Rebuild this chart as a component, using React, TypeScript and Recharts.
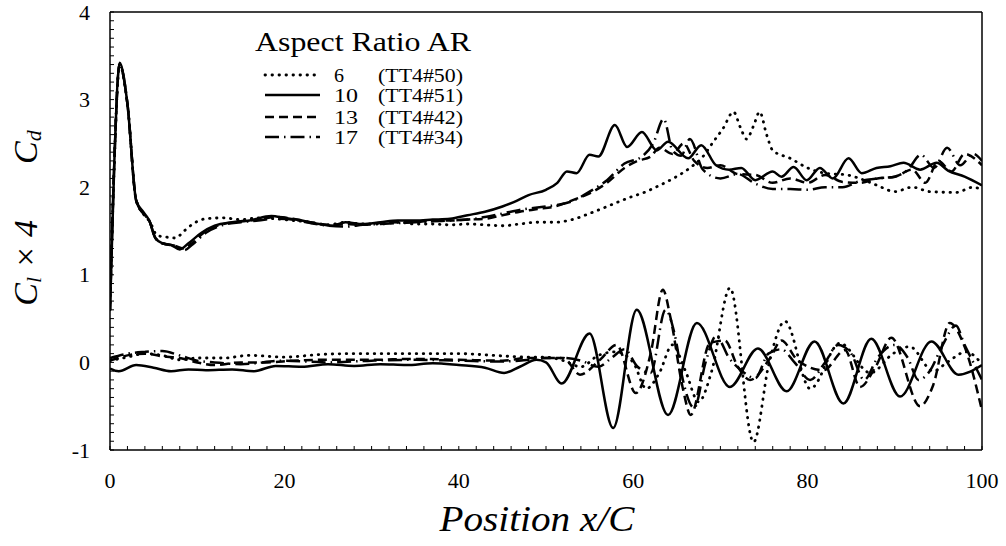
import React from 'react';
import { LineChart, Line, XAxis, YAxis, Legend } from 'recharts';

const SERIF = "'Liberation Serif', 'Times New Roman', serif";
const FONT = { fontFamily: SERIF };

// ---- tick labels ----
const xMajorTicks = [0, 20, 40, 60, 80, 100];
const yMajorTicks = [-1, 0, 1, 2, 3, 4];
const xMinorTicks = Array.from({ length: 51 }, (_, i) => i * 2);
const yMinorTicks = Array.from({ length: 51 }, (_, i) => Math.round((-1 + i * 0.1) * 10) / 10);

// ---- legend ----
const legendTitle = 'Aspect Ratio AR';
const legendAR = ['6', '10', '13', '17'];
const legendRuns = ['(TT4#50)', '(TT4#51)', '(TT4#42)', '(TT4#34)'];

// ---- Cd curves: [position x/C, Cd] ----
const cdAR6: number[][] = [
  [0, 0.6], [0.5, 2.3], [1.1, 3.4], [2, 2.95], [3, 1.85], [3.8, 1.7], [4.6, 1.6], [5.4, 1.45], [6.5, 1.43],
  [7.5, 1.42], [8.5, 1.5], [9.5, 1.58], [11, 1.64], [13, 1.65], [15, 1.63], [17, 1.65], [19, 1.64], [21, 1.62],
  [23, 1.6], [25, 1.57], [27, 1.6], [29, 1.58], [31, 1.58], [33, 1.6], [35, 1.58], [37, 1.58], [39, 1.57],
  [41, 1.58], [43, 1.57], [45, 1.56], [47, 1.58], [49, 1.6], [51, 1.6], [53, 1.63], [55, 1.7], [57.5, 1.8],
  [59.5, 1.88], [61.5, 1.95], [63, 2.02], [64.6, 2.1], [66.5, 2.22], [68, 2.35], [69.2, 2.52], [70.3, 2.67],
  [71.5, 2.86], [72.3, 2.68], [73, 2.55], [73.8, 2.7], [74.5, 2.86], [75.3, 2.6], [76, 2.42], [78, 2.33],
  [80, 2.22], [82, 2.16], [84.5, 2.14], [86.5, 2.08], [88, 2.02], [90, 1.95], [92, 2.0], [94, 1.95], [97, 1.94],
  [99, 2.0], [100, 1.97],
];
const cdAR10: number[][] = [
  [0, 0.6], [0.5, 2.3], [1.1, 3.42], [2, 2.95], [3, 1.85], [3.8, 1.72], [4.5, 1.62], [5.2, 1.42], [6, 1.36],
  [7, 1.34], [8, 1.29], [9, 1.36], [10.5, 1.48], [12, 1.56], [14, 1.6], [16, 1.62], [18.5, 1.67], [20, 1.65],
  [22, 1.62], [24, 1.58], [25.5, 1.56], [27, 1.6], [29, 1.58], [31, 1.6], [33, 1.62], [35, 1.62], [37, 1.63],
  [39, 1.64], [41, 1.68], [43, 1.72], [45, 1.78], [46.3, 1.83], [48, 1.91], [50, 1.97], [51.3, 2.05],
  [52.4, 2.18], [53.5, 2.16], [55, 2.37], [56, 2.35], [57.9, 2.71], [59.3, 2.46], [61, 2.63], [62.7, 2.42],
  [64, 2.52], [66.3, 2.33], [67.8, 2.48], [69.5, 2.25], [71, 2.2], [72.4, 2.22], [74, 2.08], [76, 2.18],
  [77, 2.12], [78.4, 2.23], [79.9, 2.08], [81.4, 2.22], [82.9, 2.1], [84.7, 2.33], [86.2, 2.16], [87.9, 2.22],
  [89.5, 2.24], [91, 2.28], [92.9, 2.2], [94.8, 2.28], [96.1, 2.19], [98, 2.12], [100, 2.02],
];
const cdAR13: number[][] = [
  [0, 0.6], [0.5, 2.3], [1.1, 3.4], [2, 2.95], [3, 1.85], [3.8, 1.7], [4.5, 1.62], [5.2, 1.42], [6, 1.36],
  [7.5, 1.33], [8.5, 1.3], [9.5, 1.37], [11, 1.5], [13, 1.58], [15, 1.61], [17, 1.63], [19, 1.66], [21, 1.64],
  [23, 1.6], [25, 1.57], [27, 1.58], [29, 1.57], [31, 1.59], [33, 1.6], [35, 1.6], [37, 1.62], [39, 1.62],
  [41, 1.63], [43, 1.64], [45, 1.68], [47, 1.72], [49, 1.75], [51, 1.78], [53, 1.85], [55, 1.93], [57, 2.05],
  [59, 2.22], [60.5, 2.3], [62, 2.35], [63, 2.45], [64.5, 2.38], [65.8, 2.5], [67, 2.3], [68.5, 2.22],
  [70, 2.25], [72, 2.15], [74, 2.14], [76, 2.05], [78, 2.1], [80, 2.05], [82, 2.14], [84, 2.06], [86, 2.05],
  [88, 2.1], [90, 2.12], [92, 2.2], [93.5, 2.05], [95, 2.3], [96.5, 2.18], [98, 2.38], [100, 2.25],
];
const cdAR17: number[][] = [
  [0, 0.6], [0.5, 2.3], [1.1, 3.4], [2, 2.95], [3, 1.85], [3.8, 1.7], [4.5, 1.62], [5.2, 1.42], [6, 1.36],
  [7.5, 1.33], [8.5, 1.28], [9.5, 1.35], [11, 1.48], [13, 1.57], [15, 1.6], [17, 1.62], [19, 1.64], [21, 1.63],
  [23, 1.59], [25, 1.56], [27, 1.55], [29, 1.57], [31, 1.58], [33, 1.59], [35, 1.6], [37, 1.61], [39, 1.62],
  [41, 1.63], [43, 1.66], [45, 1.7], [47.5, 1.75], [50, 1.78], [53, 1.84], [55, 1.95], [57, 2.08], [59, 2.27],
  [61, 2.35], [62.3, 2.5], [63.5, 2.78], [64.5, 2.42], [65.5, 2.36], [66.5, 2.55], [68, 2.2], [70, 2.1],
  [72, 2.15], [74, 2.04], [76, 1.98], [78, 1.98], [80, 1.97], [82, 2.0], [84, 2.0], [86, 2.07], [88, 2.1],
  [90, 2.12], [91.5, 2.2], [93, 2.37], [94.5, 2.22], [96, 2.45], [97.5, 2.25], [99, 2.38], [100, 2.3],
];

// ---- Cl x 4 curves: [position x/C, Cl*4] ----
const clAR6: number[][] = [
  [0, 0.02], [2, 0.06], [4, 0.1], [6, 0.08], [8, 0.03], [10, 0.05], [13, 0.05], [16, 0.08], [20, 0.06],
  [24, 0.09], [28, 0.1], [32, 0.1], [36, 0.1], [40, 0.1], [44, 0.08], [48, 0.06], [50, 0.06], [52, 0.02],
  [54, -0.05], [56, 0.08], [58, 0.12], [60, 0.0], [61.5, -0.3], [63, -0.12], [64.5, 0.2], [66, -0.1],
  [67.5, -0.45], [69, -0.1], [71.1, 0.85], [73.8, -0.91], [75.6, 0.0], [77.4, 0.47], [80.3, -0.3],
  [83.7, 0.22], [87.2, -0.12], [89.8, 0.1], [91.7, 0.18], [94.4, -0.1], [96, 0.0], [98.2, 0.12], [100, -0.02],
];
const clAR10: number[][] = [
  [0, -0.07], [1, -0.1], [3, -0.03], [5, -0.06], [7, -0.1], [9, -0.08], [11, -0.09], [14, -0.08],
  [16.5, -0.1], [19, -0.04], [22, -0.05], [25, -0.02], [28, -0.04], [31, -0.02], [34, -0.03], [37, -0.01],
  [40, -0.03], [43, -0.06], [45.2, -0.12], [47, -0.05], [48.9, 0.03], [50, 0.0], [51.8, -0.24], [55, 0.33],
  [57.7, -0.75], [60.4, 0.6], [64, -0.6], [67.3, 0.45], [71.1, -0.28], [74.3, 0.16], [77.6, -0.33],
  [80.8, 0.24], [84.1, -0.47], [87.3, 0.27], [90.6, -0.39], [94.2, 0.24], [97.3, -0.14], [100, -0.03],
];
const clAR13: number[][] = [
  [0, 0.02], [2, 0.08], [4, 0.1], [6, 0.07], [8, 0.05], [10, 0.0], [12, -0.03], [15, 0.0], [18, 0.0],
  [21, 0.02], [25, 0.03], [30, 0.03], [35, 0.04], [40, 0.03], [45, 0.02], [48, 0.05], [50, 0.05], [52, 0.05],
  [53.9, -0.14], [56.2, 0.03], [58.1, 0.2], [60.3, -0.35], [62, 0.1], [63.4, 0.83], [64.3, 0.5], [65.7, -0.3],
  [66.6, -0.6], [68.8, 0.22], [70.5, 0.25], [72, -0.05], [73.4, -0.2], [75.7, 0.05], [77, 0.25], [78.8, 0.03],
  [81.8, -0.09], [84.3, 0.14], [86, -0.28], [87.8, -0.05], [89.6, 0.28], [92.9, -0.5], [94.4, -0.26],
  [96.3, 0.45], [98, 0.18], [100, -0.55],
];
const clAR17: number[][] = [
  [0, 0.05], [2, 0.1], [4, 0.12], [6, 0.13], [8, 0.08], [10, 0.02], [12, 0.0], [15, -0.02], [20, 0.02],
  [25, 0.0], [30, 0.02], [35, 0.03], [40, 0.02], [45, 0.01], [48, 0.03], [50, 0.05], [52, 0.05], [54, 0.02],
  [56, -0.05], [57.5, 0.05], [59, 0.15], [60.5, -0.05], [62, -0.12], [63.7, 0.6], [64.8, 0.3], [65.7, -0.2],
  [67, -0.52], [68.3, 0.0], [69.5, 0.3], [71, 0.05], [72.5, -0.1], [74, -0.18], [75.5, 0.1], [77, 0.15],
  [78.5, 0.0], [80.3, -0.2], [82, 0.0], [83.5, 0.2], [85, 0.1], [86.5, -0.2], [88, 0.05], [90, 0.2],
  [91.5, 0.05], [92.7, -0.2], [94, -0.1], [95.5, 0.2], [97, 0.42], [98, 0.2], [99, 0.0], [100, -0.2],
];

const toPoints = (pairs: number[][]) => pairs.map(([x, y]) => ({ x, y }));

const styles = [
  { dash: '0.5 6.5', cap: 'round', w: 2.8 },
  { dash: undefined, cap: 'butt', w: 2.5 },
  { dash: '9 5', cap: 'butt', w: 2.5 },
  { dash: '14 5 1.5 5', cap: 'butt', w: 2.5 },
];

const seriesList = [
  { key: 'cd6', data: cdAR6, s: 0 },
  { key: 'cd10', data: cdAR10, s: 1 },
  { key: 'cd13', data: cdAR13, s: 2 },
  { key: 'cd17', data: cdAR17, s: 3 },
  { key: 'cl6', data: clAR6, s: 0 },
  { key: 'cl10', data: clAR10, s: 1 },
  { key: 'cl13', data: clAR13, s: 2 },
  { key: 'cl17', data: clAR17, s: 3 },
];

const XTick = (props: any) => {
  const { x, y, payload } = props;
  if (!xMajorTicks.includes(payload.value)) return <g />;
  return (
    <text x={x} y={y + 30} textAnchor="middle" dominantBaseline="central" style={FONT} fontSize={22} fill="#000">
      {payload.value}
    </text>
  );
};

const YTick = (props: any) => {
  const { x, y, payload } = props;
  if (!yMajorTicks.includes(payload.value)) return <g />;
  return (
    <text x={x - 20} y={y} textAnchor="end" dominantBaseline="central" style={FONT} fontSize={22} fill="#000">
      {payload.value}
    </text>
  );
};

const YLabel = (props: any) => {
  const vb = props.viewBox || { x: 60, y: 12, width: 50, height: 438 };
  const cx = vb.x - 35;
  const cy = vb.y + 206;
  return (
    <text
      x={cx}
      y={cy}
      transform={`rotate(-90 ${cx} ${cy})`}
      textAnchor="middle"
      dominantBaseline="central"
      style={{ ...FONT, fontStyle: 'italic' }}
      fontSize={34}
      fill="#000"
    >
      <tspan>C</tspan>
      <tspan fontSize={22} dy={8}>l</tspan>
      <tspan dy={-8}> × 4</tspan>
      <tspan dx={56}>C</tspan>
      <tspan fontSize={22} dy={8}>d</tspan>
    </text>
  );
};

const XLabel = (props: any) => {
  const vb = props.viewBox || { x: 110, y: 450, width: 872, height: 30 };
  const cx = vb.x + vb.width / 2 - 9;
  const y = vb.y + 81;
  return (
    <text x={cx} y={y} textAnchor="middle" style={{ ...FONT, fontStyle: 'italic' }} fontSize={35} fill="#000"
      textLength={195} lengthAdjust="spacingAndGlyphs">
      Position x/C
    </text>
  );
};

const renderLegend = () => (
  <svg width={260} height={130} style={{ overflow: 'visible' }}>
    <text x={5} y={31} style={FONT} fontSize={28} fill="#000" textLength={216} lengthAdjust="spacingAndGlyphs">
      {legendTitle}
    </text>
    {legendAR.map((ar, i) => {
      const cy = [55, 75, 97, 117][i];
      return (
        <g key={ar}>
          <line x1={15} x2={70} y1={cy} y2={cy} stroke="#000" strokeWidth={styles[i].w}
            strokeDasharray={styles[i].dash} strokeLinecap={styles[i].cap as any} />
          <text x={84} y={cy} dominantBaseline="central" style={FONT} fontSize={19} fill="#000"
            textLength={ar.length === 1 ? 10 : 24} lengthAdjust="spacingAndGlyphs">{ar}</text>
          <text x={128} y={cy} dominantBaseline="central" style={FONT} fontSize={19} fill="#000"
            textLength={85} lengthAdjust="spacingAndGlyphs">{legendRuns[i]}</text>
        </g>
      );
    })}
  </svg>
);

export default function App() {
  return (
    <div style={{ position: 'absolute', left: 0, top: 0, width: 1006, height: 546, background: '#fff', fontFamily: SERIF }}>
      <LineChart width={1006} height={546} margin={{ top: 11, right: 23, bottom: 66, left: 60 }} style={FONT}>
        <XAxis
          type="number"
          dataKey="x"
          domain={[0, 100]}
          allowDataOverflow
          ticks={xMinorTicks}
          interval={0}
          tickSize={-4}
          tickMargin={4}
          tick={<XTick />}
          axisLine={{ stroke: '#000', strokeWidth: 1.5 }}
          tickLine={{ stroke: '#000' }}
          height={30}
          label={{ content: <XLabel /> }}
        />
        <XAxis
          xAxisId="top"
          orientation="top"
          type="number"
          dataKey="x"
          domain={[0, 100]}
          allowDataOverflow
          ticks={xMinorTicks}
          interval={0}
          tickSize={-4}
          tick={false}
          axisLine={{ stroke: '#000', strokeWidth: 1.5 }}
          tickLine={{ stroke: '#000' }}
          height={1}
        />
        <YAxis
          type="number"
          domain={[-1, 4]}
          allowDataOverflow
          ticks={yMinorTicks}
          interval={0}
          tickSize={-4}
          tickMargin={4}
          tick={<YTick />}
          axisLine={{ stroke: '#000', strokeWidth: 1.5 }}
          tickLine={{ stroke: '#000' }}
          width={50}
          label={{ content: <YLabel /> }}
        />
        <YAxis
          yAxisId="right"
          orientation="right"
          type="number"
          domain={[-1, 4]}
          allowDataOverflow
          ticks={yMinorTicks}
          interval={0}
          tickSize={-4}
          tick={false}
          axisLine={{ stroke: '#000', strokeWidth: 1.5 }}
          tickLine={{ stroke: '#000' }}
          width={1}
        />
        <Legend
          layout="horizontal"
          verticalAlign="middle"
          align="center"
          content={renderLegend}
          wrapperStyle={{ position: 'absolute', left: 250, top: 20, width: 260, height: 130 }}
        />
        {seriesList.map((sr) => (
          <Line
            key={sr.key}
            data={toPoints(sr.data)}
            dataKey="y"
            type="monotone"
            stroke="#000"
            strokeWidth={styles[sr.s].w}
            strokeDasharray={styles[sr.s].dash}
            strokeLinecap={styles[sr.s].cap as any}
            dot={false}
            activeDot={false}
            isAnimationActive={false}
          />
        ))}
      </LineChart>
    </div>
  );
}
